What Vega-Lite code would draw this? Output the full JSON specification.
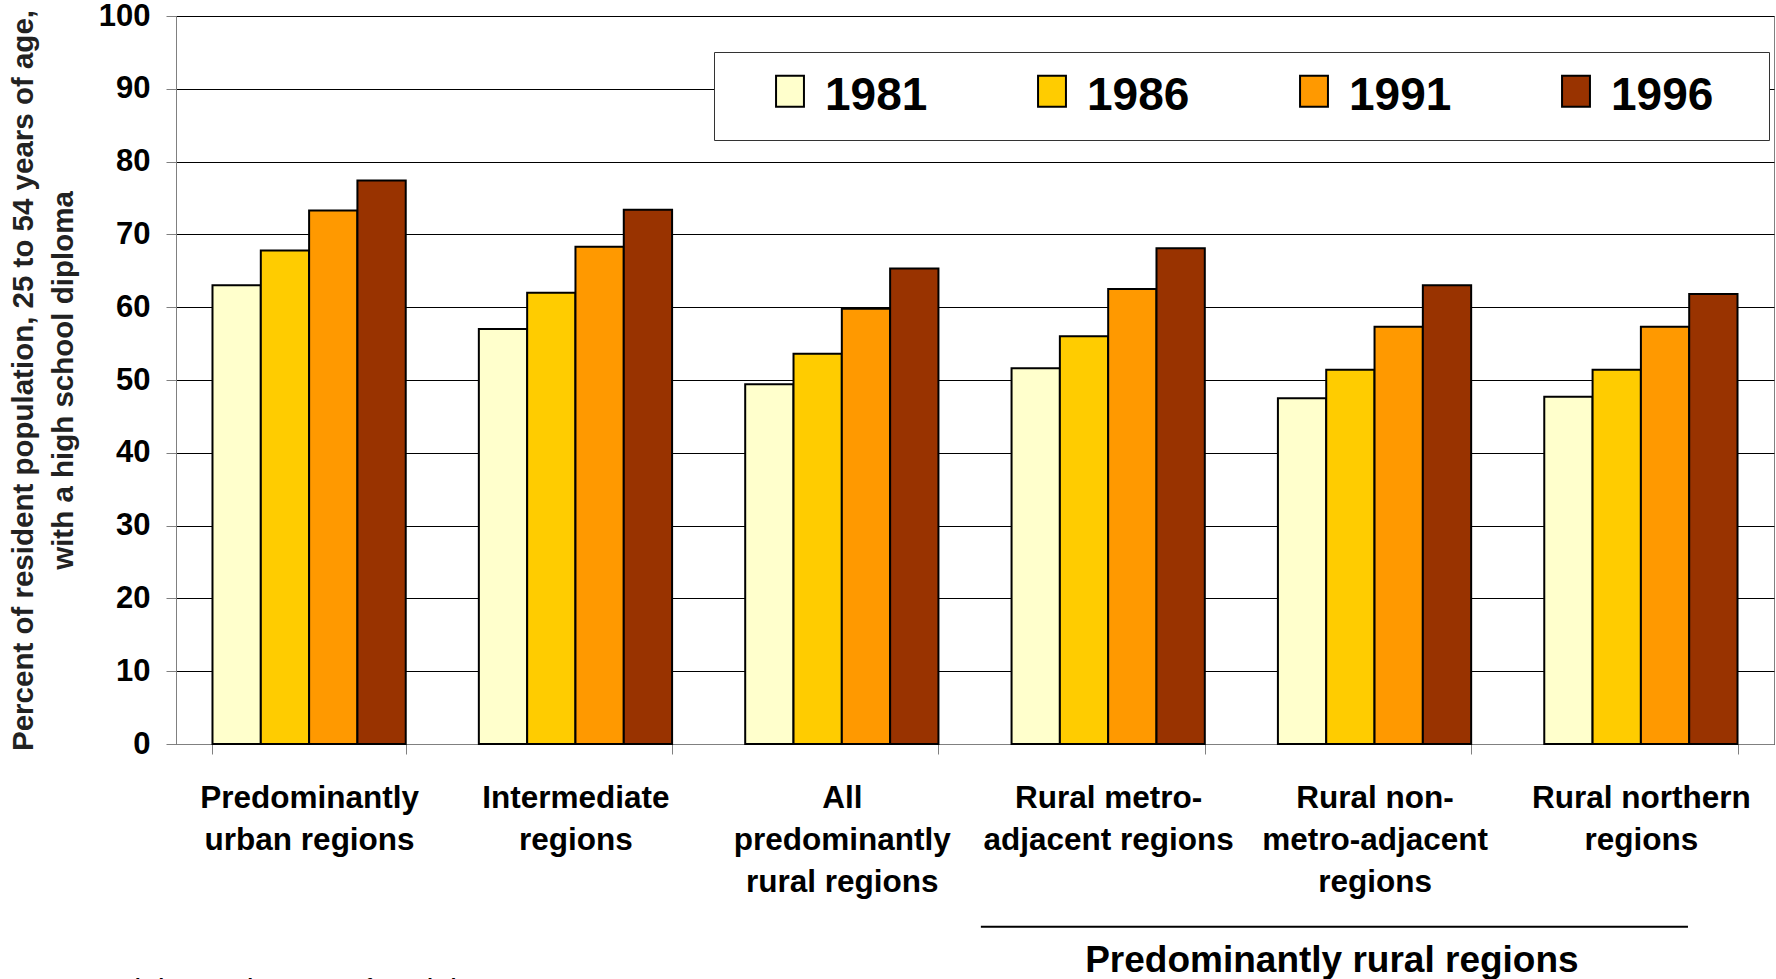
{
  "$schema": "https://vega.github.io/schema/vega-lite/v6.json",
  "width": 1598,
  "height": 728,
  "autosize": {"type": "none"},
  "padding": {"left": 176, "top": 16, "right": 2, "bottom": 235},
  "background": "#ffffff",
  "config": {
    "font": "Liberation Sans",
    "view": {"stroke": "#808080", "strokeWidth": 1}
  },
  "resolve": {"scale": {"x": "independent", "y": "independent", "color": "independent"}},
  "layer": [
    {
      "data": {
        "values": [
          {"region": "Predominantly urban regions", "year": "1981", "value": 63.0},
          {"region": "Predominantly urban regions", "year": "1986", "value": 67.8},
          {"region": "Predominantly urban regions", "year": "1991", "value": 73.3},
          {"region": "Predominantly urban regions", "year": "1996", "value": 77.4},
          {"region": "Intermediate regions", "year": "1981", "value": 57.0},
          {"region": "Intermediate regions", "year": "1986", "value": 62.0},
          {"region": "Intermediate regions", "year": "1991", "value": 68.3},
          {"region": "Intermediate regions", "year": "1996", "value": 73.4},
          {"region": "All predominantly rural regions", "year": "1981", "value": 49.4},
          {"region": "All predominantly rural regions", "year": "1986", "value": 53.6},
          {"region": "All predominantly rural regions", "year": "1991", "value": 59.8},
          {"region": "All predominantly rural regions", "year": "1996", "value": 65.3},
          {"region": "Rural metro-adjacent regions", "year": "1981", "value": 51.6},
          {"region": "Rural metro-adjacent regions", "year": "1986", "value": 56.0},
          {"region": "Rural metro-adjacent regions", "year": "1991", "value": 62.5},
          {"region": "Rural metro-adjacent regions", "year": "1996", "value": 68.1},
          {"region": "Rural non-metro-adjacent regions", "year": "1981", "value": 47.5},
          {"region": "Rural non-metro-adjacent regions", "year": "1986", "value": 51.4},
          {"region": "Rural non-metro-adjacent regions", "year": "1991", "value": 57.3},
          {"region": "Rural non-metro-adjacent regions", "year": "1996", "value": 63.0},
          {"region": "Rural northern regions", "year": "1981", "value": 47.7},
          {"region": "Rural northern regions", "year": "1986", "value": 51.4},
          {"region": "Rural northern regions", "year": "1991", "value": 57.3},
          {"region": "Rural northern regions", "year": "1996", "value": 61.8}
        ]
      },
      "mark": {"type": "bar", "stroke": "#000000", "strokeWidth": 2, "opacity": 1},
      "encoding": {
        "x": {
          "field": "region",
          "type": "nominal",
          "sort": ["Predominantly urban regions", "Intermediate regions", "All predominantly rural regions", "Rural metro-adjacent regions", "Rural non-metro-adjacent regions", "Rural northern regions"],
          "scale": {"paddingInner": 0.2745, "paddingOuter": 0.137},
          "axis": {
            "title": null,
            "labelAngle": 0,
            "labelExpr": "datum.label == 'Predominantly urban regions' ? ['Predominantly', 'urban regions'] : datum.label == 'Intermediate regions' ? ['Intermediate', 'regions'] : datum.label == 'All predominantly rural regions' ? ['All', 'predominantly', 'rural regions'] : datum.label == 'Rural metro-adjacent regions' ? ['Rural metro-', 'adjacent regions'] : datum.label == 'Rural non-metro-adjacent regions' ? ['Rural non-', 'metro-adjacent', 'regions'] : datum.label == 'Rural northern regions' ? ['Rural northern', 'regions'] : ''",
            "labelFont": "Liberation Sans",
            "labelFontSize": 31.5,
            "labelFontWeight": "bold",
            "labelLineHeight": 42,
            "labelColor": "#000000",
            "labelPadding": 28,
            "labelLimit": 500,
            "labelOverlap": false,
            "tickBand": "extent",
            "tickSize": 10,
            "tickColor": "#808080",
            "domainColor": "#808080",
            "grid": false
          }
        },
        "xOffset": {
          "field": "year",
          "type": "nominal",
          "scale": {"paddingInner": 0, "paddingOuter": 0}
        },
        "y": {
          "field": "value",
          "type": "quantitative",
          "scale": {"domain": [0, 100], "nice": false},
          "axis": {
            "title": ["Percent of resident population, 25 to 54 years of age,", "with a high school diploma"],
            "titleFont": "Liberation Sans",
            "titleFontSize": 29.5,
            "titleFontWeight": "bold",
            "titleColor": "#222222",
            "titleLineHeight": 40,
            "titlePadding": 20,
            "values": [0, 10, 20, 30, 40, 50, 60, 70, 80, 90, 100],
            "labelFontSize": 31,
            "labelFontWeight": "bold",
            "labelColor": "#000000",
            "labelPadding": 16,
            "tickSize": 10,
            "tickColor": "#808080",
            "domainColor": "#808080",
            "grid": true,
            "gridColor": "#000000",
            "gridOpacity": 1,
            "gridWidth": 1
          }
        },
        "color": {
          "field": "year",
          "type": "nominal",
          "scale": {"domain": ["1981", "1986", "1991", "1996"], "range": ["#FFFFCC", "#FFCC00", "#FF9900", "#993300"]},
          "legend": {
            "orient": "none",
            "legendX": 538,
            "legendY": 36,
            "direction": "horizontal",
            "columns": 4,
            "title": "\u2800",
            "titleOrient": "left",
            "titleFontSize": 10,
            "titleColor": "#ffffff",
            "titlePadding": 25,
            "labelExpr": "datum.label == '1996' ? datum.label + '\u2800' : datum.label",
            "labelFont": "Liberation Sans",
            "labelFontSize": 46,
            "labelFontWeight": "bold",
            "labelColor": "#000000",
            "labelOffset": 12,
            "labelLimit": 400,
            "columnPadding": 101,
            "padding": 21,
            "symbolType": "M-0.9,-1.3H0.9V0.7H-0.9Z",
            "symbolSize": 961,
            "symbolStrokeColor": "#000000",
            "symbolStrokeWidth": 2,
            "symbolOpacity": 1,
            "strokeColor": "#333333",
            "fillColor": "#ffffff"
          }
        }
      }
    },
    {
      "data": {"values": [{"start": 3.022, "end": 5.677, "level": -25.1}]},
      "mark": {"type": "rule", "color": "#000000", "strokeWidth": 2},
      "encoding": {
        "x": {"field": "start", "type": "quantitative", "scale": {"domain": [0, 6], "nice": false, "zero": false}, "axis": null},
        "x2": {"field": "end"},
        "y": {"field": "level", "type": "quantitative", "scale": {"domain": [0, 100], "nice": false}, "axis": null}
      }
    },
    {
      "data": {"values": [{"pos": 4.34, "level": -31.3, "label": "Predominantly rural regions"}]},
      "mark": {"type": "text", "font": "Liberation Sans", "fontSize": 37, "fontWeight": "bold", "align": "center", "baseline": "alphabetic", "color": "#000000"},
      "encoding": {
        "x": {"field": "pos", "type": "quantitative", "scale": {"domain": [0, 6], "nice": false, "zero": false}, "axis": null},
        "y": {"field": "level", "type": "quantitative", "scale": {"domain": [0, 100], "nice": false}, "axis": null},
        "text": {"field": "label"}
      }
    },
    {
      "data": {"values": [{"pos": -0.596, "level": -34.2, "label": "Source: Statistics Canada, Census of Population, 1981 to 1996."}]},
      "mark": {"type": "text", "font": "Liberation Sans", "fontSize": 20, "fontWeight": "bold", "align": "left", "baseline": "alphabetic", "color": "#000000"},
      "encoding": {
        "x": {"field": "pos", "type": "quantitative", "scale": {"domain": [0, 6], "nice": false, "zero": false}, "axis": null},
        "y": {"field": "level", "type": "quantitative", "scale": {"domain": [0, 100], "nice": false}, "axis": null},
        "text": {"field": "label"}
      }
    }
  ]
}
